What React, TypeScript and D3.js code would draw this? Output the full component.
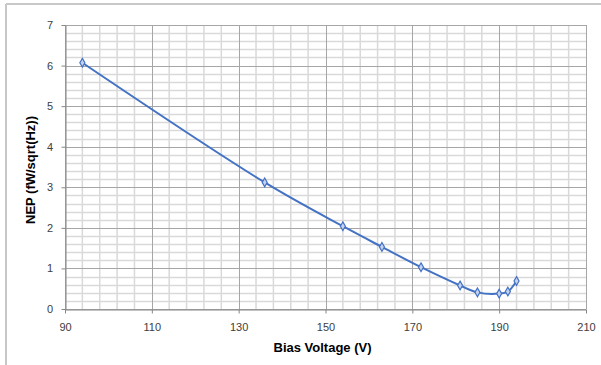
import React, { useEffect, useRef } from "react";
import * as d3 from "d3";

const biasVoltage = [94, 136, 154, 163, 172, 181, 185, 190, 192, 194];
const nep = [6.07, 3.12, 2.04, 1.53, 1.03, 0.58, 0.41, 0.38, 0.43, 0.69];
const xTicks = [90, 110, 130, 150, 170, 190, 210];
const yTicks = [0, 1, 2, 3, 4, 5, 6, 7];

const W = 601;
const H = 365;
const margin = { left: 65, right: 15, top: 25, bottom: 56 };
const FONT = "'Liberation Sans', Arial, sans-serif";
const BLUE = "#4472C4";

export default function App() {
  const ref = useRef<SVGSVGElement>(null);

  useEffect(() => {
    const svg = d3.select(ref.current);
    svg.selectAll("*").remove();

    const x = d3.scaleLinear().domain([90, 210]).range([margin.left, W - margin.right]);
    const y = d3.scaleLinear().domain([0, 7]).range([H - margin.bottom, margin.top]);

    svg.append("rect").attr("width", W).attr("height", H).attr("fill", "#fff");

    // outer chart frame (top and left edges)
    svg.append("line").attr("x1", 6).attr("x2", W).attr("y1", 4).attr("y2", 4)
      .attr("stroke", "#c8c8c8").attr("stroke-width", 2);
    svg.append("line").attr("x1", 6).attr("x2", 6).attr("y1", 4).attr("y2", H)
      .attr("stroke", "#c8c8c8").attr("stroke-width", 2);

    const grid = svg.append("g");
    // minor gridlines
    d3.range(90, 210.001, 4).forEach((v) => {
      if (v % 20 === 10) return;
      grid.append("line").attr("x1", x(v)).attr("x2", x(v))
        .attr("y1", y(0)).attr("y2", y(7))
        .attr("stroke", "#d9d9d9").attr("stroke-width", 1.5);
    });
    d3.range(0, 7.0001, 0.2).forEach((v) => {
      if (Math.abs(v - Math.round(v)) < 1e-6) return;
      grid.append("line").attr("x1", x(90)).attr("x2", x(210))
        .attr("y1", Math.round(y(v)) + 0.5).attr("y2", Math.round(y(v)) + 0.5)
        .attr("stroke", "#d9d9d9").attr("stroke-width", 1.5);
    });
    // major gridlines
    xTicks.forEach((v) => {
      grid.append("line").attr("x1", Math.round(x(v)) + 0.5).attr("x2", Math.round(x(v)) + 0.5)
        .attr("y1", y(0)).attr("y2", y(7))
        .attr("stroke", "#a6a6a6").attr("stroke-width", 1);
    });
    yTicks.forEach((v) => {
      grid.append("line").attr("x1", x(90)).attr("x2", x(210))
        .attr("y1", Math.round(y(v)) + 0.5).attr("y2", Math.round(y(v)) + 0.5)
        .attr("stroke", "#a6a6a6").attr("stroke-width", 1);
    });

    // axes
    const xAxis = svg.append("g").attr("transform", `translate(0,${Math.round(y(0)) + 0.5})`)
      .call(d3.axisBottom(x).tickValues(xTicks).tickFormat(d3.format("d")).tickSize(4).tickSizeOuter(0));
    const yAxis = svg.append("g").attr("transform", `translate(${Math.round(x(90)) + 0.5},0)`)
      .call(d3.axisLeft(y).tickValues(yTicks).tickFormat(d3.format("d")).tickSize(4).tickSizeOuter(0));
    [xAxis, yAxis].forEach((a) => {
      a.select(".domain").attr("stroke", "#868686");
      a.selectAll(".tick line").attr("stroke", "#868686");
      a.selectAll("text").attr("font-family", FONT).attr("font-size", 11).attr("fill", "#404040");
    });
    xAxis.selectAll("text").attr("dy", "1.3em");
    yAxis.selectAll("text").attr("dx", "-0.5em");

    // series
    const pts = biasVoltage.map((v, i) => [x(v), y(nep[i])] as [number, number]);
    const line = d3.line().curve(d3.curveCatmullRom.alpha(0.5));
    svg.append("path").attr("d", line(pts)).attr("fill", "none")
      .attr("stroke", BLUE).attr("stroke-width", 2);
    const sym = d3.symbol().type(d3.symbolDiamond).size(22);
    svg.append("g").selectAll("path").data(pts).join("path")
      .attr("transform", (d) => `translate(${d[0]},${d[1]})`)
      .attr("d", sym()).attr("fill", "#c5d3ee").attr("stroke", BLUE).attr("stroke-width", 1.2);

    // axis titles
    svg.append("text").attr("x", (x(90) + x(210)) / 2 - 3).attr("y", 352)
      .attr("text-anchor", "middle").attr("font-family", FONT).attr("font-weight", "bold")
      .attr("font-size", 13.5).attr("textLength", 98).attr("lengthAdjust", "spacingAndGlyphs")
      .attr("fill", "#000").text("Bias Voltage (V)");
    svg.append("text").attr("transform", `translate(35,${(y(0) + y(7)) / 2 + 3}) rotate(-90)`)
      .attr("text-anchor", "middle").attr("font-family", FONT).attr("font-weight", "bold")
      .attr("font-size", 13.5).attr("textLength", 108).attr("lengthAdjust", "spacingAndGlyphs")
      .attr("fill", "#000").text("NEP (fW/sqrt(Hz))");
  }, []);

  return (
    <svg ref={ref} width={W} height={H} style={{ position: "absolute", left: 0, top: 0 }} />
  );
}
